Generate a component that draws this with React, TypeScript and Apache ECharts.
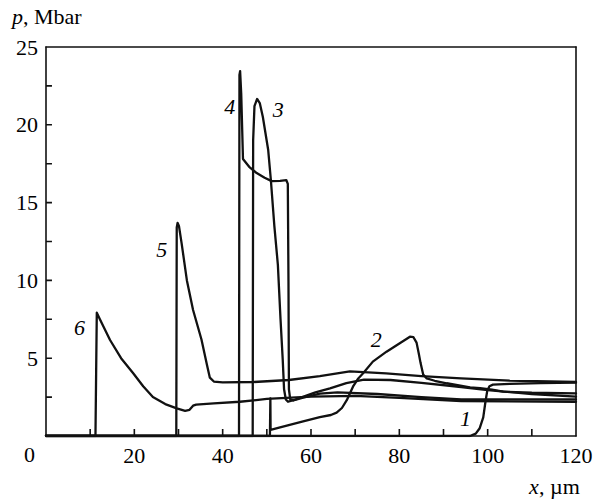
import React, { useEffect, useRef } from "react";
import * as echarts from "echarts";

const curve1: number[][] = [[0,0],[96,0],[97.3,0.15],[98.2,0.5],[99,1.2],[99.5,2.2],[99.9,2.9],[100.4,3.2],[101.2,3.3],[105,3.35],[112,3.4],[120,3.43]];
const curve2: number[][] = [[0,0],[50.7,0],[50.8,2.42],[50.85,0.4],[53,0.56],[58,0.92],[62,1.22],[64.5,1.35],[65.8,1.5],[67,1.8],[68.1,2.3],[69.5,3.17],[70.7,3.7],[71.8,4.03],[74,4.78],[77.1,5.42],[80.1,5.96],[82.4,6.38],[83.2,6.35],[83.9,6.0],[84.4,5.3],[84.8,4.7],[85.4,3.95],[86.2,3.7],[88,3.55],[90.7,3.39],[96,3.13],[98.3,3.08],[101,2.98],[103.5,2.85],[110,2.78],[120,2.74]];
const curve3: number[][] = [[0,0],[46.8,0],[46.9,19],[47.2,21.2],[47.8,21.66],[48.4,21.4],[49.1,20.5],[50.3,18.4],[50.9,16.5],[51.7,13.5],[52.5,11.0],[53.1,7.5],[53.6,4.9],[53.9,3.0],[54.3,2.35],[54.8,2.2],[56,2.3],[58,2.5],[61,2.8],[64.3,3.06],[68,3.4],[72,3.62],[78,3.6],[85,3.42],[94,3.15],[100,2.95],[110,2.7],[120,2.53]];
const curve4: number[][] = [[0,0],[43.7,0],[43.8,23.2],[43.95,23.45],[44.2,22],[44.6,17.8],[46,17.3],[47.7,16.9],[49.5,16.6],[51.1,16.38],[53,16.4],[54.4,16.45],[54.75,16.2],[54.9,10],[55.0,3],[55.3,2.35],[56,2.28],[58,2.45],[62,2.72],[66,2.8],[75,2.7],[85,2.5],[94,2.35],[120,2.36]];
const curve5: number[][] = [[0,0],[29.5,0],[29.6,13.4],[29.8,13.7],[30.1,13.5],[30.7,12.4],[31.9,10.0],[33.3,8.1],[35.2,6.2],[36.5,4.5],[37.1,3.75],[38,3.5],[40,3.45],[47,3.47],[55,3.6],[62,3.85],[68.8,4.15],[77,4.02],[85,3.85],[94,3.7],[105,3.56],[120,3.47]];
const curve6: number[][] = [[0,0],[11.2,0],[11.35,4],[11.5,7.92],[12.2,7.5],[14.5,6.17],[17,5.0],[19.7,4.05],[22,3.2],[24.2,2.5],[27,2.05],[29.6,1.78],[31.5,1.62],[32.5,1.68],[33.3,1.95],[34,2.02],[38,2.1],[43.9,2.2],[50,2.38],[60,2.53],[70,2.58],[80,2.45],[94,2.25],[120,2.2]];

const curves = [curve1, curve2, curve3, curve4, curve5, curve6];
const curveLabels = ["1", "2", "3", "4", "5", "6"];
const labelPos: number[][] = [[95.0, 1.1], [74.8, 6.2], [52.6, 21.0], [41.6, 21.2], [26.2, 12.0], [7.6, 7.0]];

const xTicks = [0, 20, 40, 60, 80, 100, 120];
const yTicks = [5, 10, 15, 20, 25];
const xMinorTicks = [10, 20, 30, 40, 50, 60, 70, 80, 90, 100, 110];
const yMinorTicks = [2.5, 5, 7.5, 10, 12.5, 15, 17.5, 20, 22.5];

const FONT = "'Liberation Serif', 'Times New Roman', serif";
const INK = "#111111";

export default function App() {
  const ref = useRef<HTMLDivElement>(null);
  useEffect(() => {
    if (!ref.current) return;
    const chart = echarts.init(ref.current, undefined, { renderer: "svg" });
    const series: any[] = curves.map((d, i) => ({
      type: "line",
      name: curveLabels[i],
      data: d,
      showSymbol: false,
      symbol: "none",
      lineStyle: { color: INK, width: 2.3, join: "round", cap: "round" },
      z: 3,
    }));
    // inward tick marks as short line segments in data space
    const xTickLen = 0.45; // in y units
    const yTickLen = 1.35; // in x units
    xMinorTicks.forEach((v) => {
      series.push({
        type: "line",
        data: [[v, 0], [v, xTickLen]],
        showSymbol: false,
        symbol: "none",
        silent: true,
        lineStyle: { color: INK, width: 1.6 },
        z: 4,
      });
    });
    yMinorTicks.forEach((v) => {
      series.push({
        type: "line",
        data: [[0, v], [yTickLen, v]],
        showSymbol: false,
        symbol: "none",
        silent: true,
        lineStyle: { color: INK, width: 1.6 },
        z: 4,
      });
    });
    series.push({
      type: "custom",
      data: labelPos.map((p, i) => [p[0], p[1], i]),
      silent: true,
      z: 6,
      renderItem: (_p: any, api: any) => {
        const pt = api.coord([api.value(0), api.value(1)]);
        return {
          type: "text",
          x: pt[0],
          y: pt[1],
          style: {
            text: curveLabels[api.value(2)],
            font: `italic 22px ${FONT}`,
            fill: "#000",
            align: "center",
            verticalAlign: "middle",
          },
        };
      },
    });
    const axisCommon = { splitLine: { show: false }, axisTick: { show: false } };
    chart.setOption({
      animation: false,
      backgroundColor: "#ffffff",
      grid: { left: 46, right: 29, top: 47, bottom: 65 },
      xAxis: [
        {
          ...axisCommon,
          type: "value",
          min: 0,
          max: 120,
          interval: 10,
          position: "bottom",
          axisLine: { show: true, onZero: false, lineStyle: { color: INK, width: 1.6 } },
          axisLabel: {
            show: true,
            interval: 0,
            fontFamily: FONT,
            fontSize: 22,
            color: "#000000",
            margin: 8,
            formatter: (v: number) => (xTicks.includes(v) && v !== 0 ? String(v) : ""),
          },
        },
        {
          ...axisCommon,
          type: "value",
          min: 0,
          max: 120,
          position: "top",
          axisLine: { show: true, onZero: false, lineStyle: { color: INK, width: 1.6 } },
          axisLabel: { show: false },
        },
      ],
      yAxis: [
        {
          ...axisCommon,
          type: "value",
          min: 0,
          max: 25,
          interval: 2.5,
          position: "left",
          axisLine: { show: true, onZero: false, lineStyle: { color: INK, width: 1.6 } },
          axisLabel: {
            show: true,
            interval: 0,
            fontFamily: FONT,
            fontSize: 22,
            color: "#000000",
            margin: 8,
            formatter: (v: number) => (yTicks.includes(v) ? String(v) : ""),
          },
        },
        {
          ...axisCommon,
          type: "value",
          min: 0,
          max: 25,
          position: "right",
          axisLine: { show: true, onZero: false, lineStyle: { color: INK, width: 1.6 } },
          axisLabel: { show: false },
        },
      ],
      graphic: [
        { type: "text", left: 24, top: 443, style: { text: "0", font: `22px ${FONT}`, fill: "#000" } },
        {
          type: "group",
          left: 12,
          top: 5,
          children: [
            { type: "text", x: 0, y: 0, style: { text: "p", font: `italic 22px ${FONT}`, fill: "#000" } },
            { type: "text", x: 11, y: 0, style: { text: ", Mbar", font: `22px ${FONT}`, fill: "#000" } },
          ],
        },
        {
          type: "group",
          left: 529,
          top: 475,
          children: [
            { type: "text", x: 0, y: 0, style: { text: "x", font: `italic 22px ${FONT}`, fill: "#000" } },
            { type: "text", x: 10, y: 0, style: { text: ", \u00b5m", font: `22px ${FONT}`, fill: "#000" } },
          ],
        },
      ],
      series,
    });
    return () => chart.dispose();
  }, []);
  return <div ref={ref} style={{ width: 605, height: 501, position: "absolute", left: 0, top: 0 }} />;
}
